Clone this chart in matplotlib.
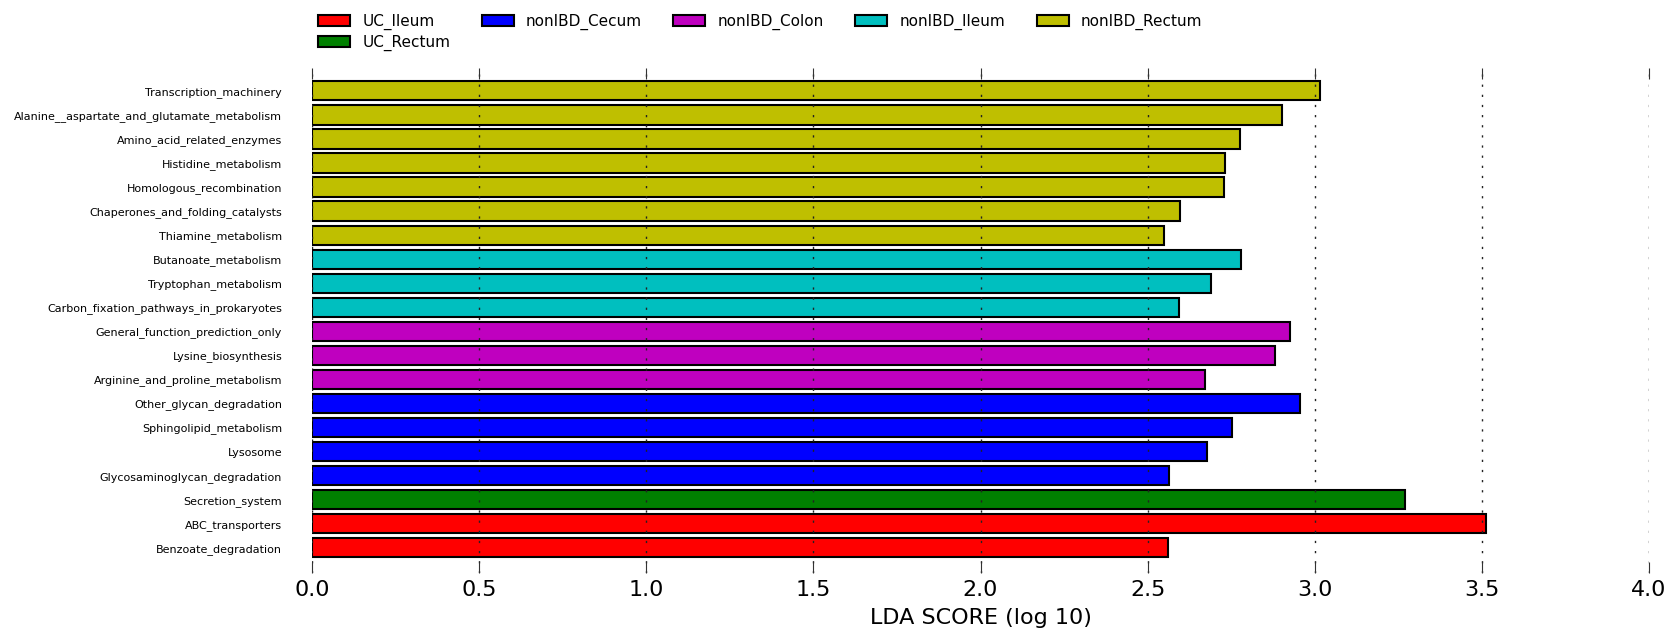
import numpy as np
import matplotlib
matplotlib.use("Agg")
import matplotlib.pyplot as plt
from matplotlib.patches import Patch

# LDA effect sizes, listed bottom to top
features = [
    "Benzoate_degradation",
    "ABC_transporters",
    "Secretion_system",
    "Glycosaminoglycan_degradation",
    "Lysosome",
    "Sphingolipid_metabolism",
    "Other_glycan_degradation",
    "Arginine_and_proline_metabolism",
    "Lysine_biosynthesis",
    "General_function_prediction_only",
    "Carbon_fixation_pathways_in_prokaryotes",
    "Tryptophan_metabolism",
    "Butanoate_metabolism",
    "Thiamine_metabolism",
    "Chaperones_and_folding_catalysts",
    "Homologous_recombination",
    "Histidine_metabolism",
    "Amino_acid_related_enzymes",
    "Alanine__aspartate_and_glutamate_metabolism",
    "Transcription_machinery",
]
lda_scores = [
    2.561, 3.512, 3.269, 2.563, 2.678, 2.752, 2.955,
    2.672, 2.881, 2.925, 2.595, 2.689, 2.778,
    2.548, 2.596, 2.728, 2.732, 2.777, 2.902, 3.017,
]
groups = [
    "UC_Ileum", "UC_Ileum", "UC_Rectum",
    "nonIBD_Cecum", "nonIBD_Cecum", "nonIBD_Cecum", "nonIBD_Cecum",
    "nonIBD_Colon", "nonIBD_Colon", "nonIBD_Colon",
    "nonIBD_Ileum", "nonIBD_Ileum", "nonIBD_Ileum",
    "nonIBD_Rectum", "nonIBD_Rectum", "nonIBD_Rectum", "nonIBD_Rectum",
    "nonIBD_Rectum", "nonIBD_Rectum", "nonIBD_Rectum",
]
class_names = ["UC_Ileum", "UC_Rectum", "nonIBD_Cecum", "nonIBD_Colon",
               "nonIBD_Ileum", "nonIBD_Rectum"]
class_colors = {
    "UC_Ileum": "#ff0000",
    "UC_Rectum": "#008000",
    "nonIBD_Cecum": "#0000ff",
    "nonIBD_Colon": "#bf00bf",
    "nonIBD_Ileum": "#00bfbf",
    "nonIBD_Rectum": "#bfbf00",
}

fig = plt.figure(figsize=(16.81, 6.36), dpi=100)
ax = fig.add_axes([0.1856, 0.0990, 0.7954, 0.7941])

ypos = np.arange(len(features))
ax.barh(ypos, lda_scores, height=0.8, align="center",
        color=[class_colors[g] for g in groups],
        edgecolor="black", linewidth=1.5, zorder=2)

ax.set_xlim(0, 4.0)
ax.set_ylim(-1.05, len(features) - 0.05)
ax.set_xticks(np.arange(0, 4.01, 0.5))
ax.set_xticklabels(["%.1f" % v for v in np.arange(0, 4.01, 0.5)], fontsize=16)
ax.set_yticks(ypos)
ax.set_yticklabels(features, fontsize=8)

for side in ["top", "bottom", "left", "right"]:
    ax.spines[side].set_visible(False)
ax.tick_params(axis="x", direction="in", length=8, width=0.8, top=True,
               bottom=True, pad=5, color="#333333")
ax.tick_params(axis="y", length=0, pad=21.5)
ax.xaxis.grid(True, color="#222222", linewidth=1, dashes=(1.6, 5.7), zorder=3)
ax.set_axisbelow(False)
ax.set_xlabel("LDA SCORE (log 10)", fontsize=16, labelpad=6)

handles = [Patch(facecolor=class_colors[c], edgecolor="black", linewidth=1.5,
                 label=c) for c in class_names]
fig.legend(handles=handles, loc="upper left", bbox_to_anchor=(0.181, 1.0),
           ncol=5, frameon=False, fontsize=11, handlelength=2.1,
           handleheight=0.75, handletextpad=0.8, columnspacing=2.05,
           labelspacing=0.3)

fig.savefig("out.png", dpi=100)
